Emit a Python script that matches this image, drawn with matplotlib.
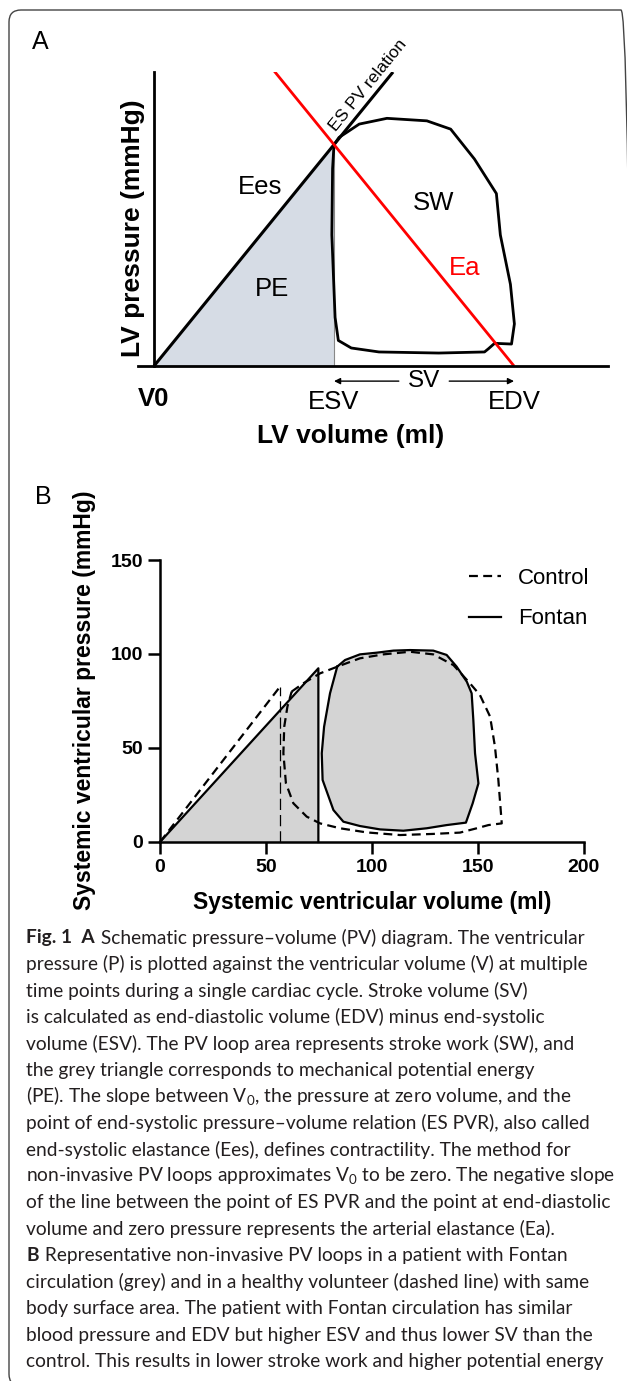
import matplotlib
matplotlib.use("Agg")
import matplotlib.pyplot as plt
from matplotlib.patches import FancyBboxPatch

plt.rcParams['font.family'] = ['Liberation Sans', 'DejaVu Sans']
plt.rcParams['mathtext.fontset'] = 'custom'
plt.rcParams['mathtext.rm'] = 'Lato'

# ---- panel A: schematic PV loop (arbitrary units) ----
a_esv = 50
a_edv = 100
a_esp = 61.5
a_espvr_end = 66.4   # volume where the drawn ES PV line stops
a_ea_start = 33.3    # volume where the drawn Ea line starts
a_loop_v = [50.0, 51.4, 53.7, 57.0, 64.7, 75.8, 82.4, 89.0, 95.1, 96.2, 99.0, 100.1,
            99.3, 94.6, 92.9, 91.8, 79.1, 62.5, 54.8, 51.2, 50.3, 49.4, 49.6, 50.0]
a_loop_p = [61.5, 63.5, 65.0, 67.2, 68.8, 68.1, 65.8, 57.5, 47.9, 36.4, 22.7, 11.7,
            6.1, 6.3, 4.8, 3.9, 3.6, 3.9, 5.0, 7.1, 13.5, 36.4, 54.8, 61.5]

# ---- panel B: measured loops ----
fontan_esv = 74.7
fontan_esp = 92.4
control_esv = 56.6
control_esp = 82.6
fontan_v = [83.6, 87.3, 94.3, 102.2, 110.1, 117.9, 128.9, 135.2, 139.9, 144.7, 147.0,
            147.8, 148.6, 150.2, 147.5, 144.3, 135.2, 125.8, 114.8, 103.8, 94.3, 86.5,
            81.8, 76.7, 76.3, 77.4, 80.2, 83.6]
fontan_p = [93.3, 96.8, 99.8, 100.7, 101.8, 102.1, 101.8, 99.5, 93.3, 85.3, 79.1,
            64.9, 47.2, 31.2, 20.6, 10.3, 9.0, 7.3, 6.0, 6.7, 8.5, 10.8,
            17.0, 33.0, 47.2, 61.3, 79.1, 93.3]
control_v = [62.1, 67.6, 75.5, 84.9, 94.3, 105.3, 117.9, 128.9, 138.4, 146.2, 150.9,
             155.7, 158.0, 159.6, 161.2, 154.9, 149.4, 141.5, 128.9, 113.2, 97.5, 84.9,
             75.5, 69.2, 62.9, 59.4, 58.2, 58.6, 60.1, 62.1]
control_p = [80.0, 84.4, 89.7, 93.8, 97.7, 99.8, 101.2, 99.8, 94.1, 84.4, 78.2,
             66.7, 50.7, 33.0, 9.9, 9.0, 7.3, 5.0, 4.3, 3.7, 5.1, 7.3,
             9.9, 13.5, 20.6, 31.2, 47.2, 61.3, 72.0, 80.0]
b_ticks = [0, 50, 100, 150, 200]

caption = [
    ("Fig. 1  A", " Schematic pressure\u2013volume (PV) diagram. The ventricular"),
    ("", "pressure (P) is plotted against the ventricular volume (V) at multiple"),
    ("", "time points during a single cardiac cycle. Stroke volume (SV)"),
    ("", "is calculated as end-diastolic volume (EDV) minus end-systolic"),
    ("", "volume (ESV). The PV loop area represents stroke work (SW), and"),
    ("", "the grey triangle corresponds to mechanical potential energy"),
    ("", "(PE). The slope between V$_0$, the pressure at zero volume, and the"),
    ("", "point of end-systolic pressure\u2013volume relation (ES PVR), also called"),
    ("", "end-systolic elastance (Ees), defines contractility. The method for"),
    ("", "non-invasive PV loops approximates V$_0$ to be zero. The negative slope"),
    ("", "of the line between the point of ES PVR and the point at end-diastolic"),
    ("", "volume and zero pressure represents the arterial elastance (Ea)."),
    ("B", " Representative non-invasive PV loops in a patient with Fontan"),
    ("", "circulation (grey) and in a healthy volunteer (dashed line) with same"),
    ("", "body surface area. The patient with Fontan circulation has similar"),
    ("", "blood pressure and EDV but higher ESV and thus lower SV than the"),
    ("", "control. This results in lower stroke work and higher potential energy"),
]

W, H = 627, 1381
fig = plt.figure(figsize=(W / 100, H / 100), dpi=100)


def fx(px):
    return px / W


def fy(py):
    return 1 - py / H


# outer rounded frame (right and bottom edges fall just outside the image)
fig.patches.append(FancyBboxPatch((0.09, -0.05), 6.24, 13.76,
                                  boxstyle="round,pad=0,rounding_size=0.12",
                                  transform=fig.dpi_scale_trans, fill=False,
                                  ec='#444444', lw=1.0))

# ================= panel A =================
axA = fig.add_axes([fx(138), fy(366), fx(608) - fx(138), fy(72) - fy(366)])
axA.set_xlim(-4.44, 126.1)
axA.set_ylim(0, 81.67)
axA.patch.set_visible(False)
for s in ['top', 'right']:
    axA.spines[s].set_visible(False)
axA.spines['left'].set_position(('data', 0))
for s in ['left', 'bottom']:
    axA.spines[s].set_linewidth(2)
axA.set_xticks([])
axA.set_yticks([])

ees = a_esp / a_esv
ea = a_esp / (a_edv - a_esv)
axA.fill([0, a_esv, a_esv], [0, a_esp, 0], color='#d6dce5', lw=0)
axA.plot([a_esv, a_esv], [0, a_esp], color='#888888', lw=0.8)
axA.plot([0, a_espvr_end], [0, ees * a_espvr_end], color='black', lw=2.2,
         solid_capstyle='butt')
axA.plot(a_loop_v, a_loop_p, color='black', lw=2, solid_joinstyle='round')
axA.plot([a_ea_start, a_edv], [ea * (a_edv - a_ea_start), 0], color='red', lw=2,
         solid_capstyle='butt')

fsA = 18.5
axA.text(29.4, 49.7, "Ees", fontsize=fsA, ha='center', va='center')
axA.text(32.8, 21.4, "PE", fontsize=fsA, ha='center', va='center')
axA.text(77.5, 45.3, "SW", fontsize=fsA, ha='center', va='center')
axA.text(86.4, 27.2, "Ea", fontsize=fsA, ha='center', va='center', color='red')
axA.text(59.4, 78.1, "ES PV relation", fontsize=12.5, ha='center', va='center',
         rotation=50.9, rotation_mode='anchor')

axA.text(0, -9.2, "V0", fontsize=fsA, fontweight='bold', ha='center', va='center', clip_on=False)
axA.text(a_esv, -10, "ESV", fontsize=fsA, ha='center', va='center', clip_on=False)
axA.text(a_edv, -10, "EDV", fontsize=fsA, ha='center', va='center', clip_on=False)
mid = (a_esv + a_edv) / 2
axA.text(mid, -4.2, "SV", fontsize=17.5, ha='center', va='center', clip_on=False)
for tail, head in [(mid - 7, a_esv), (mid + 7, a_edv)]:
    axA.annotate("", xy=(head, -4.2), xytext=(tail, -4.2), annotation_clip=False,
                 arrowprops=dict(arrowstyle='-|>', lw=1.0, color='black',
                                 mutation_scale=9, shrinkA=0, shrinkB=0))

fig.text(fx(40), fy(42), "A", fontsize=18, ha='center', va='center')
fig.text(fx(133), fy(228), "LV pressure (mmHg)", fontsize=19, fontweight='bold',
         rotation=90, ha='center', va='center')
fig.text(fx(351), fy(436), "LV volume (ml)", fontsize=19, fontweight='bold',
         ha='center', va='center')

# ================= panel B =================
axB = fig.add_axes([fx(160), fy(842), fx(584) - fx(160), fy(560) - fy(842)])
axB.set_xlim(0, 200)
axB.set_ylim(0, 150)
axB.patch.set_visible(False)
for s in ['top', 'right']:
    axB.spines[s].set_visible(False)
for s in ['left', 'bottom']:
    axB.spines[s].set_linewidth(1.8)
axB.set_xticks(b_ticks)
axB.set_yticks(b_ticks[:4])
axB.tick_params(direction='out', length=8.5, width=1.8, pad=3.5, labelsize=14)
for lab in axB.get_xticklabels() + axB.get_yticklabels():
    lab.set_fontweight('bold')

grey = '#d4d4d4'
axB.fill([0, fontan_esv, fontan_esv], [0, fontan_esp, 0], color=grey, lw=0, zorder=1)
axB.fill(fontan_v, fontan_p, color=grey, lw=0, zorder=1)
axB.plot([control_esv, control_esv], [0, control_esp], color='black', lw=0.9,
         linestyle=(0, (9, 4)), zorder=2, clip_on=False)
axB.plot([0, control_esv], [0, control_esp], color='black', lw=1.6,
         linestyle=(0, (4, 2.4)), zorder=3, clip_on=False)
axB.plot(control_v, control_p, color='black', lw=1.6, linestyle=(0, (4, 2.4)),
         zorder=3, label='Control')
axB.plot(fontan_v, fontan_p, color='black', lw=1.6, zorder=4, label='Fontan',
         solid_joinstyle='round')
axB.plot([0, fontan_esv, fontan_esv], [0, fontan_esp, 0], color='black', lw=1.6,
         zorder=4, clip_on=False)

leg = axB.legend(loc='upper left', bbox_to_anchor=(fx(469), fy(568)),
                 bbox_transform=fig.transFigure, frameon=False, fontsize=16,
                 handlelength=1.45, handletextpad=0.75, labelspacing=0.87,
                 borderpad=0, borderaxespad=0)

fig.text(fx(43), fy(497), "B", fontsize=18, ha='center', va='center')
fig.text(fx(85), fy(700), "Systemic ventricular pressure (mmHg)", fontsize=16.5,
         fontweight='bold', rotation=90, ha='center', va='center')
fig.text(fx(372), fy(903), "Systemic ventricular volume (ml)", fontsize=16.5,
         fontweight='bold', ha='center', va='center')

# ================= caption =================
cap_font = ['Lato', 'DejaVu Sans']
renderer = fig.canvas.get_renderer()

# pick the size so the widest caption line spans about 588 px, as in the figure
probe = fig.text(0, 0, caption[10][1], fontsize=14, family=cap_font)
cap_size = 14 * 588 / probe.get_window_extent(renderer).width
probe.remove()

for i, (bold, rest) in enumerate(caption):
    y = fy(937.7 + i * 26.5)
    x = fx(26)
    if bold:
        t = fig.text(x, y, bold, fontsize=cap_size, fontweight='bold', family=cap_font,
                     va='center', ha='left', color='#231f20')
        bb = t.get_window_extent(renderer)
        x = fx(bb.x1 + 1)
    fig.text(x, y, rest, fontsize=cap_size, family=cap_font, va='center', ha='left',
             color='#231f20')

fig.savefig("out.png", dpi=100)
